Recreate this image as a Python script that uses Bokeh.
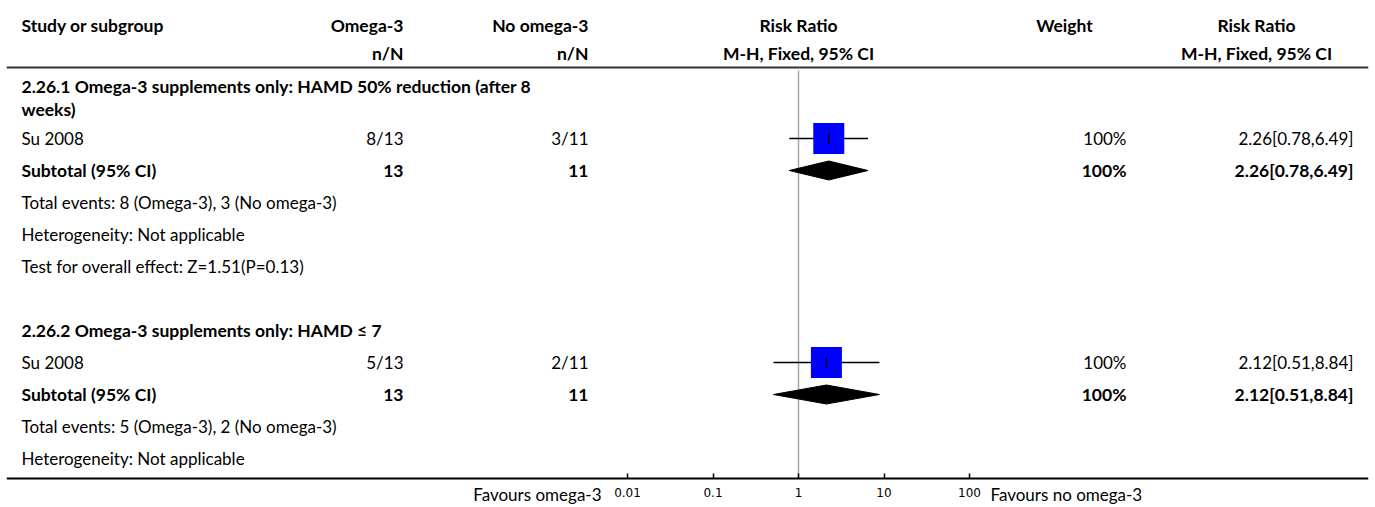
from bokeh.plotting import figure
from bokeh.models import Range1d, LogScale, LogAxis, FixedTicker, CustomJSTickFormatter
from bokeh.core.properties import value
from bokeh.embed import file_html
from bokeh.resources import INLINE

# ---------------- data ----------------
header_row1 = ["Study or subgroup", "Omega-3", "No omega-3", "Risk Ratio", "Weight", "Risk Ratio"]
header_row2 = ["", "n/N", "n/N", "M-H, Fixed, 95% CI", "", "M-H, Fixed, 95% CI"]
subgroup_titles = ["2.26.1 Omega-3 supplements only: HAMD 50% reduction (after 8\nweeks)",
                   "2.26.2 Omega-3 supplements only: HAMD \u2264 7"]
study_names = ["Su 2008", "Su 2008"]
events_omega = [8, 5]
total_omega = [13, 13]
events_none = [3, 2]
total_none = [11, 11]
study_rr = [2.26, 2.12]
study_lo = [0.78, 0.51]
study_hi = [6.49, 8.84]
study_weight = [100, 100]
sub_rr = [2.26, 2.12]
sub_lo = [0.78, 0.51]
sub_hi = [6.49, 8.84]
heterogeneity = ["Not applicable", "Not applicable"]
overall_effect = ["Z=1.51(P=0.13)", None]
ticks = [0.01, 0.1, 1, 10, 100]
favours_left = "Favours omega-3"
favours_right = "Favours no omega-3"

# ---------------- layout ----------------
W, H = 1375, 507
X0, X1 = 6, 1368
Y0, Y1 = 0, H
NULL_PX, DECADE_PX = 798, 85.5
FONT = value("Lato")
FS = "17px"
FSB = "17.5px"

p = figure(width=W, height=H, x_range=Range1d(X0, X1), y_range=Range1d(Y1, Y0),
           output_backend="svg", toolbar_location=None,
           min_border_left=X0, min_border_right=W - X1, min_border_top=0, min_border_bottom=0,
           x_axis_type=None, y_axis_type=None, outline_line_color=None,
           background_fill_color="white", border_fill_color="white")
p.grid.visible = False
p.extra_x_ranges = {"rr": Range1d(10 ** ((X0 - NULL_PX) / DECADE_PX), 10 ** ((X1 - NULL_PX) / DECADE_PX))}
p.extra_x_scales = {"rr": LogScale()}

COL_STUDY = 21
COL_T = 403
COL_C = 588
COL_RR = 798
COL_W_HDR = 1064
COL_W = 1126
COL_RR2_HDR = 1256
COL_RR2 = 1353


def txt(xs, ys, texts, align="left", bold=False, font=FONT, **kw):
    p.text(x=xs, y=ys, text=texts, text_align=align, text_baseline="middle",
           text_font=font, text_font_size=FSB if bold else FS,
           text_font_style="bold" if bold else "normal", text_color="black", **kw)


# headers
hdr_x = [COL_STUDY, COL_T, COL_C, COL_RR, COL_W_HDR, COL_RR2_HDR]
hdr_align = ["left", "right", "right", "center", "center", "center"]
for xx, t1, t2, al in zip(hdr_x, header_row1, header_row2, hdr_align):
    txt([xx], [25], [t1], align=al, bold=True)
    if t2:
        txt([xx], [53], [t2], align=al, bold=True)
p.segment(x0=[X0], x1=[X1], y0=[67], y1=[67], line_color="#333333", line_width=2)

# null line
p.segment(x0=[1], x1=[1], y0=[70], y1=[478], line_color="#a6a6a6", line_width=1.5, x_range_name="rr")

group_top = [86, 330]
for g in range(2):
    y = group_top[g]
    lines = subgroup_titles[g].split("\n")
    for i, ln in enumerate(lines):
        txt([COL_STUDY], [y + 23 * i], [ln], bold=True)
    ys = y + 52 if len(lines) > 1 else y + 32
    # study row
    txt([COL_STUDY], [ys], [study_names[g]])
    txt([COL_T], [ys], [f"{events_omega[g]}/{total_omega[g]}"], align="right")
    txt([COL_C], [ys], [f"{events_none[g]}/{total_none[g]}"], align="right")
    txt([COL_W], [ys], [f"{study_weight[g]}%"], align="right")
    txt([COL_RR2], [ys], [f"{study_rr[g]:.2f}[{study_lo[g]:.2f},{study_hi[g]:.2f}]"], align="right")
    p.segment(x0=[study_lo[g]], x1=[study_hi[g]], y0=[ys], y1=[ys], line_color="black",
              line_width=1.5, x_range_name="rr")
    p.rect(x=[study_rr[g]], y=[ys], width=31, height=31, width_units="screen", height_units="screen",
           fill_color="#0000ff", line_color=None, x_range_name="rr")
    p.segment(x0=[study_rr[g]], x1=[study_rr[g]], y0=[ys - 5], y1=[ys + 5], line_color="black",
              line_width=1.5, x_range_name="rr")
    # subtotal
    yt = ys + 32
    txt([COL_STUDY], [yt], ["Subtotal (95% CI)"], bold=True)
    txt([COL_T], [yt], [str(total_omega[g])], align="right", bold=True)
    txt([COL_C], [yt], [str(total_none[g])], align="right", bold=True)
    txt([COL_W], [yt], [f"{study_weight[g]}%"], align="right", bold=True)
    txt([COL_RR2], [yt], [f"{sub_rr[g]:.2f}[{sub_lo[g]:.2f},{sub_hi[g]:.2f}]"], align="right", bold=True)
    p.patches(xs=[[sub_lo[g], sub_rr[g], sub_hi[g], sub_rr[g]]], ys=[[yt, yt - 9.5, yt, yt + 9.5]],
              fill_color="black", line_color="black", x_range_name="rr")
    yy = yt + 32
    txt([COL_STUDY], [yy], [f"Total events: {events_omega[g]} (Omega-3), {events_none[g]} (No omega-3)"])
    yy += 32
    txt([COL_STUDY], [yy], [f"Heterogeneity: {heterogeneity[g]}"])
    if overall_effect[g]:
        yy += 32
        txt([COL_STUDY], [yy], [f"Test for overall effect: {overall_effect[g]}"])

# axis
ax = LogAxis(x_range_name="rr", fixed_location=478, ticker=FixedTicker(ticks=ticks),
             formatter=CustomJSTickFormatter(code="return tick.toString()"))
ax.axis_line_color = "black"
ax.axis_line_width = 2
ax.major_tick_in = 5
ax.major_tick_out = 0
ax.major_tick_line_color = "black"
ax.major_tick_line_width = 1.5
ax.minor_tick_line_color = None
ax.major_label_standoff = 9
ax.major_label_text_font = "DejaVu Sans"
ax.major_label_text_font_size = "12px"
ax.major_label_text_color = "black"
p.add_layout(ax, "below")

txt([601], [494], [favours_left], align="right")
txt([990], [494], [favours_right], align="left")

open("out.html", "w").write(file_html(p, INLINE))
